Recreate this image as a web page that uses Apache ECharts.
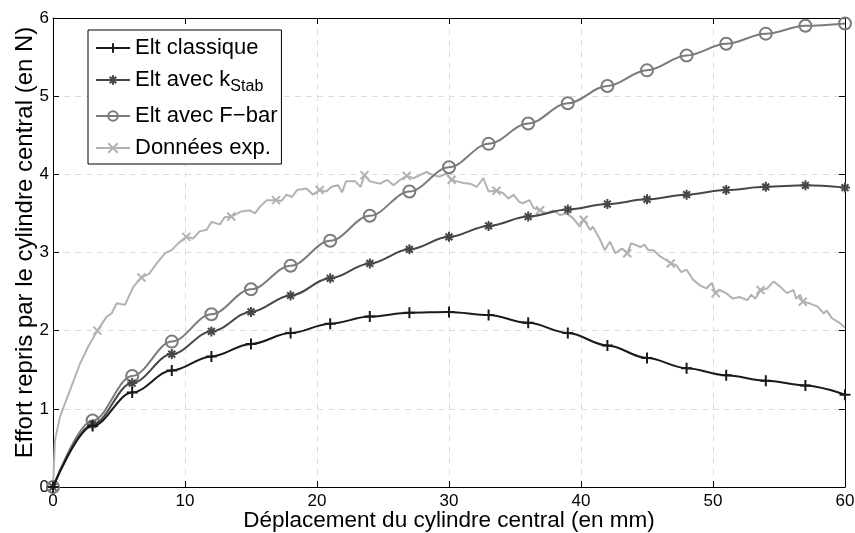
<!DOCTYPE html>
<html>
<head>
<meta charset="utf-8">
<script src="https://cdn.jsdelivr.net/npm/echarts@6/dist/echarts.min.js"></script>
<style>
html,body{margin:0;padding:0;background:#fff;}
#c{width:855px;height:533px;}
</style>
</head>
<body>
<div id="c"></div>
<script>
// ---- data ----
const seriesNames = ['Elt classique', 'Elt avec kStab', 'Elt avec F\u2212bar', 'Données exp.'];
const xTicks = [0, 10, 20, 30, 40, 50, 60];
const yTicks = [0, 1, 2, 3, 4, 5, 6];
const xSim = [0, 3, 6, 9, 12, 15, 18, 21, 24, 27, 30, 33, 36, 39, 42, 45, 48, 51, 54, 57, 60];
const classique = [0, 0.78, 1.21, 1.49, 1.67, 1.83, 1.97, 2.09, 2.18, 2.23, 2.24, 2.20, 2.10, 1.97, 1.81, 1.65, 1.52, 1.43, 1.36, 1.30, 1.18];
const kStab = [0, 0.80, 1.33, 1.70, 1.99, 2.24, 2.45, 2.67, 2.86, 3.04, 3.20, 3.34, 3.46, 3.55, 3.62, 3.68, 3.74, 3.80, 3.84, 3.86, 3.83];
const fBar = [0, 0.85, 1.42, 1.86, 2.21, 2.53, 2.83, 3.15, 3.47, 3.78, 4.09, 4.39, 4.65, 4.91, 5.13, 5.33, 5.52, 5.67, 5.80, 5.90, 5.93];
const expX = [0, 0.15, 0.53, 1.29, 2.05, 2.68, 3.36, 4.07, 4.44, 4.82, 5.45, 6.08, 6.7, 7.3, 7.85, 8.48, 8.99, 9.5, 10.1, 10.63, 11.1, 11.64, 12.0, 12.65, 13.0, 13.5, 14.2, 14.9, 15.3, 15.7, 16.2, 16.9, 17.3, 17.7, 18.1, 18.5, 19.2, 19.7, 20.2, 20.7, 21.1, 21.6, 21.9, 22.2, 22.9, 23.3, 23.6, 24.0, 24.8, 25.3, 25.8, 26.3, 26.8, 27.3, 27.8, 28.3, 28.8, 29.3, 29.8, 30.2, 30.6, 31.1, 31.6, 32.1, 32.6, 33.0, 33.6, 34.1, 34.5, 34.9, 35.3, 35.6, 36.1, 36.4, 36.9, 37.4, 37.9, 38.4, 38.9, 39.4, 39.9, 40.2, 40.7, 40.9, 41.4, 41.8, 42.2, 42.6, 43.1, 43.5, 43.8, 44.5, 44.8, 45.1, 45.5, 46.0, 46.5, 46.8, 47.2, 47.6, 48.0, 48.5, 49.0, 49.5, 49.9, 50.2, 50.5, 51.0, 51.5, 52.0, 52.6, 52.9, 53.2, 53.6, 54.1, 54.6, 55.1, 55.6, 56.1, 56.3, 56.6, 56.8, 57.3, 57.9, 58.4, 58.6, 59.0, 59.5, 60.0];
const expY = [0, 0.60, 0.90, 1.24, 1.58, 1.80, 2.00, 2.18, 2.22, 2.35, 2.33, 2.56, 2.68, 2.73, 2.86, 2.99, 3.03, 3.12, 3.20, 3.18, 3.27, 3.29, 3.39, 3.36, 3.45, 3.46, 3.52, 3.54, 3.50, 3.59, 3.67, 3.67, 3.66, 3.74, 3.71, 3.80, 3.82, 3.74, 3.80, 3.78, 3.84, 3.86, 3.77, 3.91, 3.91, 3.84, 3.99, 3.91, 3.88, 3.93, 3.86, 3.93, 3.98, 3.95, 3.99, 4.03, 3.99, 3.97, 4.01, 3.93, 3.91, 3.89, 3.88, 3.84, 3.95, 3.78, 3.79, 3.76, 3.69, 3.74, 3.65, 3.63, 3.67, 3.57, 3.54, 3.50, 3.54, 3.48, 3.50, 3.44, 3.33, 3.42, 3.29, 3.33, 3.18, 3.03, 3.14, 2.99, 3.05, 2.99, 3.12, 3.07, 3.10, 3.03, 3.03, 2.95, 2.90, 2.86, 2.84, 2.75, 2.78, 2.65, 2.58, 2.54, 2.61, 2.48, 2.52, 2.48, 2.41, 2.43, 2.39, 2.46, 2.41, 2.52, 2.54, 2.63, 2.56, 2.48, 2.52, 2.41, 2.46, 2.37, 2.35, 2.31, 2.22, 2.26, 2.16, 2.11, 2.04];
const expMarkX = [3.36, 6.7, 10.1, 13.5, 16.9, 20.2, 23.6, 26.8, 30.2, 33.6, 36.9, 40.2, 43.5, 46.8, 50.2, 53.6, 56.8];

// ---- styles ----
const FONT = '"Liberation Sans", Arial, Helvetica, sans-serif';
const PLUS = 'path://M5,0L5,10M0,5L10,5';
const STAR = 'path://M5,0L5,10M0,5L10,5M1.6,1.6L8.4,8.4M1.6,8.4L8.4,1.6';
const CROSS = 'path://M0,0L10,10M0,10L10,0';
const colors = ['#1a1a1a', '#474747', '#7b7b7b', '#b2b2b2'];

const chart = echarts.init(document.getElementById('c'), null, {renderer: 'canvas'});

function simSeries(idx, values, symbol, size, extra) {
  return Object.assign({
    name: seriesNames[idx],
    type: 'line',
    data: xSim.map((x, i) => [x, values[i]]),
    smooth: 0.35,
    smoothMonotone: 'x',
    symbol: symbol,
    symbolSize: size,
    showAllSymbol: true,
    lineStyle: {color: colors[idx], width: 2},
    itemStyle: {color: 'transparent', borderColor: colors[idx], borderWidth: 2},
    emphasis: {disabled: true},
    clip: false,
    z: 10 - idx
  }, extra || {});
}

const expData = expX.map((x, i) => {
  const item = {value: [x, expY[i]]};
  if (expMarkX.indexOf(x) < 0) item.symbol = 'none';
  return item;
});

const axisCommon = {
  axisLine: {show: true, onZero: false, lineStyle: {color: '#000', width: 1}},
  axisTick: {show: true, inside: true, length: 6, lineStyle: {color: '#000', width: 1}},
};

const option = {
  backgroundColor: '#fff',
  animation: false,
  textStyle: {fontFamily: FONT},
  grid: {left: 53, right: 10, top: 18, bottom: 46, containLabel: false, outerBoundsMode: 'none'},
  legend: {
    show: true,
    orient: 'vertical',
    left: 88,
    top: 30,
    padding: [7, 4, 5, 7],
    itemGap: 10,
    itemWidth: 34,
    itemHeight: 12,
    backgroundColor: '#fff',
    borderColor: '#000',
    borderWidth: 1,
    borderRadius: 0,
    selectedMode: false,
    data: seriesNames,
    formatter: function (name) {
      if (name === seriesNames[1]) return '{m|Elt avec k}{s|Stab}';
      return name;
    },
    textStyle: {
      fontFamily: FONT, fontSize: 22, color: '#000', lineHeight: 22,
      rich: {
        m: {fontFamily: FONT, fontSize: 22, color: '#000', lineHeight: 22, verticalAlign: 'top'},
        s: {fontFamily: FONT, fontSize: 16, color: '#000', lineHeight: 16, verticalAlign: 'top', padding: [10, 0, 0, 0]}
      }
    }
  },
  xAxis: [
    Object.assign({
      type: 'value', min: xTicks[0], max: xTicks[xTicks.length - 1], interval: 10,
      position: 'bottom',
      name: 'Déplacement du cylindre central (en mm)',
      nameLocation: 'middle', nameGap: 22, nameMoveOverlap: false,
      nameTextStyle: {fontFamily: FONT, fontSize: 22.5, color: '#000'},
      axisLabel: {show: true, fontFamily: FONT, fontSize: 17, color: '#000', margin: 6},
      splitLine: {show: true, lineStyle: {color: '#dcdcdc', width: 1, type: [6, 5]}}
    }, axisCommon),
    Object.assign({
      type: 'value', min: xTicks[0], max: xTicks[xTicks.length - 1], interval: 10,
      position: 'top',
      axisLabel: {show: false},
      splitLine: {show: false}
    }, axisCommon)
  ],
  yAxis: [
    Object.assign({
      type: 'value', min: yTicks[0], max: yTicks[yTicks.length - 1], interval: 1,
      position: 'left',
      name: 'Effort repris par le cylindre central (en N)',
      nameLocation: 'middle', nameGap: 16, nameMoveOverlap: false,
      nameTextStyle: {fontFamily: FONT, fontSize: 24, color: '#000', padding: [0, 0, 0, 20]},
      axisLabel: {show: true, fontFamily: FONT, fontSize: 17, color: '#000', margin: 4},
      splitLine: {show: true, lineStyle: {color: '#dcdcdc', width: 1, type: [6, 5]}}
    }, axisCommon),
    Object.assign({
      type: 'value', min: yTicks[0], max: yTicks[yTicks.length - 1], interval: 1,
      position: 'right',
      axisLabel: {show: false},
      splitLine: {show: false}
    }, axisCommon)
  ],
  series: [
    {
      name: seriesNames[3],
      type: 'line',
      data: expData,
      smooth: false,
      symbol: CROSS,
      symbolSize: 8,
      showAllSymbol: true,
      lineStyle: {color: colors[3], width: 2},
      itemStyle: {color: 'transparent', borderColor: colors[3], borderWidth: 2},
      emphasis: {disabled: true},
      clip: false,
      z: 3
    },
    simSeries(2, fBar, 'circle', 12, {itemStyle: {color: 'transparent', borderColor: colors[2], borderWidth: 2}}),
    simSeries(1, kStab, STAR, 10),
    simSeries(0, classique, PLUS, 11)
  ]
};
chart.setOption(option);
</script>
</body>
</html>
